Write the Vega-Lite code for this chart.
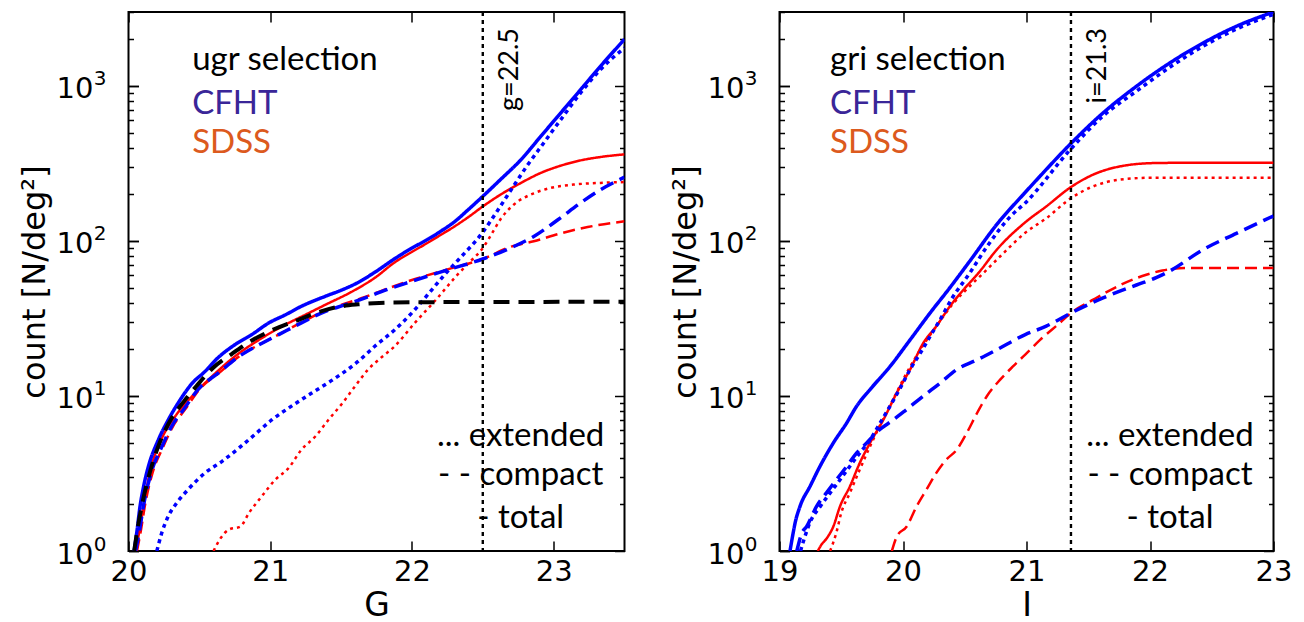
{
 "$schema": "https://vega.github.io/schema/vega-lite/v6.json",
 "background": "white",
 "padding": {"left": 16.5, "top": 9, "right": 0, "bottom": 0},
 "spacing": 41,
 "config": {
  "view": {"stroke": "black", "strokeWidth": 2},
  "axis": {"grid": false, "domain": false, "tickColor": "black", "tickWidth": 1.5, "labelColor": "black", "titleColor": "black", "labelFont": "DejaVu Sans", "titleFont": "DejaVu Sans", "titleFontWeight": "normal", "labelFontSize": 29, "titleFontSize": 33, "labelFlush": false, "labelOverlap": false}
 },
 "datasets": {
  "curves": [
   {"p":"L","s":"CFHT total","m":20.04,"n":1.0},{"p":"L","s":"CFHT total","m":20.06,"n":1.35},{"p":"L","s":"CFHT total","m":20.08,"n":1.9},{"p":"L","s":"CFHT total","m":20.11,"n":2.7},{"p":"L","s":"CFHT total","m":20.14,"n":3.5},{"p":"L","s":"CFHT total","m":20.21,"n":5.2},{"p":"L","s":"CFHT total","m":20.28,"n":7.0},{"p":"L","s":"CFHT total","m":20.35,"n":9.0},{"p":"L","s":"CFHT total","m":20.45,"n":12.1},{"p":"L","s":"CFHT total","m":20.54,"n":14.4},{"p":"L","s":"CFHT total","m":20.63,"n":17.6},{"p":"L","s":"CFHT total","m":20.75,"n":21.4},{"p":"L","s":"CFHT total","m":20.87,"n":24.9},{"p":"L","s":"CFHT total","m":20.99,"n":29.6},{"p":"L","s":"CFHT total","m":21.11,"n":33.5},{"p":"L","s":"CFHT total","m":21.22,"n":37.9},{"p":"L","s":"CFHT total","m":21.39,"n":44},{"p":"L","s":"CFHT total","m":21.51,"n":48.5},{"p":"L","s":"CFHT total","m":21.62,"n":54},{"p":"L","s":"CFHT total","m":21.74,"n":63},{"p":"L","s":"CFHT total","m":21.88,"n":77},{"p":"L","s":"CFHT total","m":22.0,"n":90},{"p":"L","s":"CFHT total","m":22.1,"n":101},{"p":"L","s":"CFHT total","m":22.2,"n":115},{"p":"L","s":"CFHT total","m":22.3,"n":133},{"p":"L","s":"CFHT total","m":22.4,"n":160},{"p":"L","s":"CFHT total","m":22.5,"n":194},{"p":"L","s":"CFHT total","m":22.625,"n":249},{"p":"L","s":"CFHT total","m":22.77,"n":335},{"p":"L","s":"CFHT total","m":22.91,"n":474},{"p":"L","s":"CFHT total","m":23.05,"n":670},{"p":"L","s":"CFHT total","m":23.19,"n":946},{"p":"L","s":"CFHT total","m":23.33,"n":1339},{"p":"L","s":"CFHT total","m":23.5,"n":2000},
   {"p":"L","s":"SDSS total","m":20.05,"n":1.0},{"p":"L","s":"SDSS total","m":20.08,"n":1.4},{"p":"L","s":"SDSS total","m":20.105,"n":1.94},{"p":"L","s":"SDSS total","m":20.15,"n":3.2},{"p":"L","s":"SDSS total","m":20.23,"n":5.2},{"p":"L","s":"SDSS total","m":20.33,"n":7.4},{"p":"L","s":"SDSS total","m":20.45,"n":10},{"p":"L","s":"SDSS total","m":20.59,"n":13.4},{"p":"L","s":"SDSS total","m":20.75,"n":18},{"p":"L","s":"SDSS total","m":20.92,"n":23},{"p":"L","s":"SDSS total","m":21.08,"n":28},{"p":"L","s":"SDSS total","m":21.25,"n":33.5},{"p":"L","s":"SDSS total","m":21.39,"n":38.8},{"p":"L","s":"SDSS total","m":21.58,"n":47.3},{"p":"L","s":"SDSS total","m":21.74,"n":58},{"p":"L","s":"SDSS total","m":21.88,"n":73},{"p":"L","s":"SDSS total","m":22.0,"n":85},{"p":"L","s":"SDSS total","m":22.1,"n":96},{"p":"L","s":"SDSS total","m":22.2,"n":109},{"p":"L","s":"SDSS total","m":22.3,"n":124},{"p":"L","s":"SDSS total","m":22.4,"n":143},{"p":"L","s":"SDSS total","m":22.5,"n":167},{"p":"L","s":"SDSS total","m":22.625,"n":199},{"p":"L","s":"SDSS total","m":22.77,"n":237},{"p":"L","s":"SDSS total","m":22.91,"n":275},{"p":"L","s":"SDSS total","m":23.05,"n":306},{"p":"L","s":"SDSS total","m":23.19,"n":331},{"p":"L","s":"SDSS total","m":23.33,"n":348},{"p":"L","s":"SDSS total","m":23.5,"n":362},
   {"p":"L","s":"model compact","m":20.04,"n":1.0},{"p":"L","s":"model compact","m":20.07,"n":1.5},{"p":"L","s":"model compact","m":20.093,"n":1.94},{"p":"L","s":"model compact","m":20.15,"n":3.2},{"p":"L","s":"model compact","m":20.22,"n":5.0},{"p":"L","s":"model compact","m":20.305,"n":7.2},{"p":"L","s":"model compact","m":20.39,"n":9.2},{"p":"L","s":"model compact","m":20.48,"n":11.6},{"p":"L","s":"model compact","m":20.59,"n":15},{"p":"L","s":"model compact","m":20.73,"n":18.7},{"p":"L","s":"model compact","m":20.87,"n":22.8},{"p":"L","s":"model compact","m":21.01,"n":26.5},{"p":"L","s":"model compact","m":21.2,"n":31},{"p":"L","s":"model compact","m":21.34,"n":34.7},{"p":"L","s":"model compact","m":21.48,"n":37.6},{"p":"L","s":"model compact","m":21.62,"n":39},{"p":"L","s":"model compact","m":21.77,"n":39.8},{"p":"L","s":"model compact","m":22.0,"n":40.2},{"p":"L","s":"model compact","m":22.5,"n":40.4},{"p":"L","s":"model compact","m":23.5,"n":40.5},
   {"p":"L","s":"CFHT compact","m":20.05,"n":1.0},{"p":"L","s":"CFHT compact","m":20.08,"n":1.4},{"p":"L","s":"CFHT compact","m":20.105,"n":1.94},{"p":"L","s":"CFHT compact","m":20.16,"n":3.2},{"p":"L","s":"CFHT compact","m":20.235,"n":4.7},{"p":"L","s":"CFHT compact","m":20.305,"n":6.4},{"p":"L","s":"CFHT compact","m":20.39,"n":8.2},{"p":"L","s":"CFHT compact","m":20.49,"n":11},{"p":"L","s":"CFHT compact","m":20.635,"n":14.1},{"p":"L","s":"CFHT compact","m":20.78,"n":18},{"p":"L","s":"CFHT compact","m":20.92,"n":21.4},{"p":"L","s":"CFHT compact","m":21.06,"n":24.9},{"p":"L","s":"CFHT compact","m":21.22,"n":29.6},{"p":"L","s":"CFHT compact","m":21.39,"n":35.2},{"p":"L","s":"CFHT compact","m":21.53,"n":38.8},{"p":"L","s":"CFHT compact","m":21.67,"n":42.9},{"p":"L","s":"CFHT compact","m":21.78,"n":47},{"p":"L","s":"CFHT compact","m":22.0,"n":55},{"p":"L","s":"CFHT compact","m":22.25,"n":65},{"p":"L","s":"CFHT compact","m":22.5,"n":76.5},{"p":"L","s":"CFHT compact","m":22.67,"n":88},{"p":"L","s":"CFHT compact","m":22.86,"n":107},{"p":"L","s":"CFHT compact","m":23.03,"n":137},{"p":"L","s":"CFHT compact","m":23.19,"n":176},{"p":"L","s":"CFHT compact","m":23.33,"n":214},{"p":"L","s":"CFHT compact","m":23.5,"n":258},
   {"p":"L","s":"SDSS compact","m":20.06,"n":1.0},{"p":"L","s":"SDSS compact","m":20.09,"n":1.4},{"p":"L","s":"SDSS compact","m":20.115,"n":1.94},{"p":"L","s":"SDSS compact","m":20.17,"n":3.2},{"p":"L","s":"SDSS compact","m":20.245,"n":4.7},{"p":"L","s":"SDSS compact","m":20.315,"n":6.4},{"p":"L","s":"SDSS compact","m":20.4,"n":8.2},{"p":"L","s":"SDSS compact","m":20.5,"n":11},{"p":"L","s":"SDSS compact","m":20.64,"n":14.1},{"p":"L","s":"SDSS compact","m":20.78,"n":18},{"p":"L","s":"SDSS compact","m":20.92,"n":21.4},{"p":"L","s":"SDSS compact","m":21.06,"n":24.9},{"p":"L","s":"SDSS compact","m":21.22,"n":29.8},{"p":"L","s":"SDSS compact","m":21.39,"n":35.5},{"p":"L","s":"SDSS compact","m":21.53,"n":39.5},{"p":"L","s":"SDSS compact","m":21.67,"n":43.5},{"p":"L","s":"SDSS compact","m":21.78,"n":47.5},{"p":"L","s":"SDSS compact","m":22.0,"n":56},{"p":"L","s":"SDSS compact","m":22.25,"n":65.5},{"p":"L","s":"SDSS compact","m":22.5,"n":76.5},{"p":"L","s":"SDSS compact","m":22.7,"n":92},{"p":"L","s":"SDSS compact","m":22.86,"n":99.6},{"p":"L","s":"SDSS compact","m":23.05,"n":112},{"p":"L","s":"SDSS compact","m":23.24,"n":123},{"p":"L","s":"SDSS compact","m":23.5,"n":134},
   {"p":"L","s":"CFHT extended","m":20.2,"n":1.0},{"p":"L","s":"CFHT extended","m":20.235,"n":1.31},{"p":"L","s":"CFHT extended","m":20.28,"n":1.67},{"p":"L","s":"CFHT extended","m":20.34,"n":2.04},{"p":"L","s":"CFHT extended","m":20.42,"n":2.49},{"p":"L","s":"CFHT extended","m":20.54,"n":3.19},{"p":"L","s":"CFHT extended","m":20.66,"n":3.79},{"p":"L","s":"CFHT extended","m":20.78,"n":4.62},{"p":"L","s":"CFHT extended","m":20.89,"n":5.63},{"p":"L","s":"CFHT extended","m":21.01,"n":7.0},{"p":"L","s":"CFHT extended","m":21.15,"n":8.6},{"p":"L","s":"CFHT extended","m":21.29,"n":10.4},{"p":"L","s":"CFHT extended","m":21.44,"n":12.7},{"p":"L","s":"CFHT extended","m":21.62,"n":16.7},{"p":"L","s":"CFHT extended","m":21.74,"n":21},{"p":"L","s":"CFHT extended","m":21.88,"n":26.8},{"p":"L","s":"CFHT extended","m":22.02,"n":36},{"p":"L","s":"CFHT extended","m":22.12,"n":46},{"p":"L","s":"CFHT extended","m":22.24,"n":62},{"p":"L","s":"CFHT extended","m":22.33,"n":76},{"p":"L","s":"CFHT extended","m":22.5,"n":114},{"p":"L","s":"CFHT extended","m":22.6,"n":155},{"p":"L","s":"CFHT extended","m":22.7,"n":214},{"p":"L","s":"CFHT extended","m":22.81,"n":303},{"p":"L","s":"CFHT extended","m":22.93,"n":429},{"p":"L","s":"CFHT extended","m":23.05,"n":606},{"p":"L","s":"CFHT extended","m":23.19,"n":901},{"p":"L","s":"CFHT extended","m":23.33,"n":1275},{"p":"L","s":"CFHT extended","m":23.5,"n":1760},
   {"p":"L","s":"SDSS extended","m":20.6,"n":1.0},{"p":"L","s":"SDSS extended","m":20.65,"n":1.21},{"p":"L","s":"SDSS extended","m":20.705,"n":1.37},{"p":"L","s":"SDSS extended","m":20.79,"n":1.44},{"p":"L","s":"SDSS extended","m":20.85,"n":1.76},{"p":"L","s":"SDSS extended","m":20.94,"n":2.25},{"p":"L","s":"SDSS extended","m":21.035,"n":2.88},{"p":"L","s":"SDSS extended","m":21.13,"n":3.43},{"p":"L","s":"SDSS extended","m":21.22,"n":4.5},{"p":"L","s":"SDSS extended","m":21.32,"n":5.5},{"p":"L","s":"SDSS extended","m":21.41,"n":7.0},{"p":"L","s":"SDSS extended","m":21.51,"n":9.0},{"p":"L","s":"SDSS extended","m":21.6,"n":11.6},{"p":"L","s":"SDSS extended","m":21.69,"n":14.8},{"p":"L","s":"SDSS extended","m":21.78,"n":17.6},{"p":"L","s":"SDSS extended","m":21.88,"n":21},{"p":"L","s":"SDSS extended","m":22.02,"n":29.6},{"p":"L","s":"SDSS extended","m":22.17,"n":41.8},{"p":"L","s":"SDSS extended","m":22.31,"n":59},{"p":"L","s":"SDSS extended","m":22.4,"n":72},{"p":"L","s":"SDSS extended","m":22.5,"n":90},{"p":"L","s":"SDSS extended","m":22.56,"n":110},{"p":"L","s":"SDSS extended","m":22.625,"n":138},{"p":"L","s":"SDSS extended","m":22.72,"n":172},{"p":"L","s":"SDSS extended","m":22.86,"n":203},{"p":"L","s":"SDSS extended","m":22.98,"n":220},{"p":"L","s":"SDSS extended","m":23.14,"n":231},{"p":"L","s":"SDSS extended","m":23.33,"n":237},{"p":"L","s":"SDSS extended","m":23.5,"n":240},
   {"p":"R","s":"CFHT total","m":19.085,"n":1.0},{"p":"R","s":"CFHT total","m":19.11,"n":1.3},{"p":"R","s":"CFHT total","m":19.125,"n":1.5},{"p":"R","s":"CFHT total","m":19.166,"n":1.94},{"p":"R","s":"CFHT total","m":19.247,"n":2.61},{"p":"R","s":"CFHT total","m":19.328,"n":3.52},{"p":"R","s":"CFHT total","m":19.436,"n":4.98},{"p":"R","s":"CFHT total","m":19.544,"n":6.7},{"p":"R","s":"CFHT total","m":19.625,"n":8.6},{"p":"R","s":"CFHT total","m":19.733,"n":11},{"p":"R","s":"CFHT total","m":19.895,"n":15.5},{"p":"R","s":"CFHT total","m":20.057,"n":23},{"p":"R","s":"CFHT total","m":20.219,"n":34.3},{"p":"R","s":"CFHT total","m":20.38,"n":50},{"p":"R","s":"CFHT total","m":20.54,"n":74},{"p":"R","s":"CFHT total","m":20.76,"n":128},{"p":"R","s":"CFHT total","m":20.99,"n":206},{"p":"R","s":"CFHT total","m":21.11,"n":262},{"p":"R","s":"CFHT total","m":21.35,"n":418},{"p":"R","s":"CFHT total","m":21.62,"n":670},{"p":"R","s":"CFHT total","m":21.89,"n":995},{"p":"R","s":"CFHT total","m":22.16,"n":1407},{"p":"R","s":"CFHT total","m":22.43,"n":1893},{"p":"R","s":"CFHT total","m":22.7,"n":2427},{"p":"R","s":"CFHT total","m":23.0,"n":3000},
   {"p":"R","s":"CFHT extended","m":19.17,"n":1.0},{"p":"R","s":"CFHT extended","m":19.2,"n":1.2},{"p":"R","s":"CFHT extended","m":19.25,"n":1.55},{"p":"R","s":"CFHT extended","m":19.33,"n":1.94},{"p":"R","s":"CFHT extended","m":19.41,"n":2.37},{"p":"R","s":"CFHT extended","m":19.49,"n":2.88},{"p":"R","s":"CFHT extended","m":19.57,"n":3.52},{"p":"R","s":"CFHT extended","m":19.65,"n":4.29},{"p":"R","s":"CFHT extended","m":19.733,"n":5.2},{"p":"R","s":"CFHT extended","m":19.81,"n":6.6},{"p":"R","s":"CFHT extended","m":19.895,"n":8.6},{"p":"R","s":"CFHT extended","m":19.976,"n":11.2},{"p":"R","s":"CFHT extended","m":20.057,"n":14.8},{"p":"R","s":"CFHT extended","m":20.14,"n":18.9},{"p":"R","s":"CFHT extended","m":20.22,"n":24.3},{"p":"R","s":"CFHT extended","m":20.3,"n":31},{"p":"R","s":"CFHT extended","m":20.39,"n":41.8},{"p":"R","s":"CFHT extended","m":20.54,"n":62},{"p":"R","s":"CFHT extended","m":20.68,"n":92},{"p":"R","s":"CFHT extended","m":20.87,"n":144},{"p":"R","s":"CFHT extended","m":20.99,"n":176},{"p":"R","s":"CFHT extended","m":21.35,"n":385},{"p":"R","s":"CFHT extended","m":21.62,"n":640},{"p":"R","s":"CFHT extended","m":21.89,"n":925},{"p":"R","s":"CFHT extended","m":22.16,"n":1320},{"p":"R","s":"CFHT extended","m":22.43,"n":1803},{"p":"R","s":"CFHT extended","m":22.7,"n":2330},{"p":"R","s":"CFHT extended","m":23.0,"n":2900},
   {"p":"R","s":"CFHT compact","m":19.14,"n":1.0},{"p":"R","s":"CFHT compact","m":19.18,"n":1.3},{"p":"R","s":"CFHT compact","m":19.22,"n":1.44},{"p":"R","s":"CFHT compact","m":19.3,"n":1.94},{"p":"R","s":"CFHT compact","m":19.38,"n":2.37},{"p":"R","s":"CFHT compact","m":19.46,"n":2.88},{"p":"R","s":"CFHT compact","m":19.545,"n":3.52},{"p":"R","s":"CFHT compact","m":19.625,"n":4.29},{"p":"R","s":"CFHT compact","m":19.706,"n":4.98},{"p":"R","s":"CFHT compact","m":19.81,"n":6.06},{"p":"R","s":"CFHT compact","m":19.92,"n":7.0},{"p":"R","s":"CFHT compact","m":20.03,"n":8.2},{"p":"R","s":"CFHT compact","m":20.165,"n":10},{"p":"R","s":"CFHT compact","m":20.3,"n":12.1},{"p":"R","s":"CFHT compact","m":20.435,"n":14.8},{"p":"R","s":"CFHT compact","m":20.6,"n":17.1},{"p":"R","s":"CFHT compact","m":20.76,"n":19.9},{"p":"R","s":"CFHT compact","m":20.99,"n":24.9},{"p":"R","s":"CFHT compact","m":21.16,"n":28.2},{"p":"R","s":"CFHT compact","m":21.36,"n":34.3},{"p":"R","s":"CFHT compact","m":21.62,"n":42.9},{"p":"R","s":"CFHT compact","m":21.89,"n":52},{"p":"R","s":"CFHT compact","m":22.05,"n":58},{"p":"R","s":"CFHT compact","m":22.16,"n":64},{"p":"R","s":"CFHT compact","m":22.43,"n":88},{"p":"R","s":"CFHT compact","m":22.7,"n":112},{"p":"R","s":"CFHT compact","m":23.0,"n":145},
   {"p":"R","s":"SDSS total","m":19.31,"n":1.0},{"p":"R","s":"SDSS total","m":19.34,"n":1.1},{"p":"R","s":"SDSS total","m":19.38,"n":1.2},{"p":"R","s":"SDSS total","m":19.436,"n":1.44},{"p":"R","s":"SDSS total","m":19.49,"n":1.94},{"p":"R","s":"SDSS total","m":19.57,"n":2.61},{"p":"R","s":"SDSS total","m":19.65,"n":3.7},{"p":"R","s":"SDSS total","m":19.733,"n":4.98},{"p":"R","s":"SDSS total","m":19.84,"n":7.0},{"p":"R","s":"SDSS total","m":19.95,"n":10.5},{"p":"R","s":"SDSS total","m":20.057,"n":14.8},{"p":"R","s":"SDSS total","m":20.165,"n":22},{"p":"R","s":"SDSS total","m":20.27,"n":28.2},{"p":"R","s":"SDSS total","m":20.38,"n":37.9},{"p":"R","s":"SDSS total","m":20.49,"n":48.5},{"p":"R","s":"SDSS total","m":20.61,"n":62},{"p":"R","s":"SDSS total","m":20.76,"n":88},{"p":"R","s":"SDSS total","m":20.99,"n":132},{"p":"R","s":"SDSS total","m":21.16,"n":167},{"p":"R","s":"SDSS total","m":21.35,"n":220},{"p":"R","s":"SDSS total","m":21.54,"n":268},{"p":"R","s":"SDSS total","m":21.76,"n":303},{"p":"R","s":"SDSS total","m":22.03,"n":318},{"p":"R","s":"SDSS total","m":22.4,"n":320},{"p":"R","s":"SDSS total","m":23.0,"n":320},
   {"p":"R","s":"SDSS extended","m":19.41,"n":1.0},{"p":"R","s":"SDSS extended","m":19.46,"n":1.31},{"p":"R","s":"SDSS extended","m":19.5,"n":1.76},{"p":"R","s":"SDSS extended","m":19.57,"n":2.37},{"p":"R","s":"SDSS extended","m":19.65,"n":3.35},{"p":"R","s":"SDSS extended","m":19.733,"n":4.73},{"p":"R","s":"SDSS extended","m":19.81,"n":6.37},{"p":"R","s":"SDSS extended","m":19.92,"n":9.5},{"p":"R","s":"SDSS extended","m":20.03,"n":14.1},{"p":"R","s":"SDSS extended","m":20.14,"n":19.9},{"p":"R","s":"SDSS extended","m":20.27,"n":28.2},{"p":"R","s":"SDSS extended","m":20.41,"n":39.8},{"p":"R","s":"SDSS extended","m":20.54,"n":51},{"p":"R","s":"SDSS extended","m":20.65,"n":62},{"p":"R","s":"SDSS extended","m":20.79,"n":80},{"p":"R","s":"SDSS extended","m":20.99,"n":113},{"p":"R","s":"SDSS extended","m":21.16,"n":140},{"p":"R","s":"SDSS extended","m":21.36,"n":189},{"p":"R","s":"SDSS extended","m":21.54,"n":225},{"p":"R","s":"SDSS extended","m":21.76,"n":249},{"p":"R","s":"SDSS extended","m":22.03,"n":256},{"p":"R","s":"SDSS extended","m":23.0,"n":256},
   {"p":"R","s":"SDSS compact","m":19.91,"n":1.0},{"p":"R","s":"SDSS compact","m":19.95,"n":1.24},{"p":"R","s":"SDSS compact","m":20.03,"n":1.44},{"p":"R","s":"SDSS compact","m":20.11,"n":1.94},{"p":"R","s":"SDSS compact","m":20.19,"n":2.49},{"p":"R","s":"SDSS compact","m":20.27,"n":3.19},{"p":"R","s":"SDSS compact","m":20.35,"n":3.88},{"p":"R","s":"SDSS compact","m":20.435,"n":4.5},{"p":"R","s":"SDSS compact","m":20.516,"n":5.77},{"p":"R","s":"SDSS compact","m":20.6,"n":7.77},{"p":"R","s":"SDSS compact","m":20.68,"n":10},{"p":"R","s":"SDSS compact","m":20.785,"n":12.7},{"p":"R","s":"SDSS compact","m":20.89,"n":15.5},{"p":"R","s":"SDSS compact","m":20.99,"n":18.5},{"p":"R","s":"SDSS compact","m":21.11,"n":23},{"p":"R","s":"SDSS compact","m":21.27,"n":29.6},{"p":"R","s":"SDSS compact","m":21.36,"n":34.3},{"p":"R","s":"SDSS compact","m":21.54,"n":41.8},{"p":"R","s":"SDSS compact","m":21.76,"n":52},{"p":"R","s":"SDSS compact","m":21.97,"n":60.6},{"p":"R","s":"SDSS compact","m":22.1,"n":64.5},{"p":"R","s":"SDSS compact","m":22.3,"n":67},{"p":"R","s":"SDSS compact","m":23.0,"n":67}
  ],
  "notes": [
   {"p":"L","k":"sel","t":"ugr selection","m":20.449,"n":1268},
   {"p":"L","k":"CFHT","t":"CFHT","m":20.449,"n":660},
   {"p":"L","k":"SDSS","t":"SDSS","m":20.449,"n":370},
   {"p":"R","k":"sel","t":"gri selection","m":19.409,"n":1268},
   {"p":"R","k":"CFHT","t":"CFHT","m":19.409,"n":660},
   {"p":"R","k":"SDSS","t":"SDSS","m":19.409,"n":370}
  ],
  "keys": [
   {"p":"L","t":"... extended","m":22.767,"n":4.76},
   {"p":"L","t":"- - compact","m":22.767,"n":2.67},
   {"p":"L","t":"- total","m":22.767,"n":1.41},
   {"p":"R","t":"... extended","m":22.162,"n":4.76},
   {"p":"R","t":"- - compact","m":22.162,"n":2.67},
   {"p":"R","t":"- total","m":22.162,"n":1.41}
  ],
  "cuts": [
   {"p":"L","m":22.5,"n":2366,"t":"g=22.5"},
   {"p":"R","m":21.36,"n":2366,"t":"i=21.3"}
  ]
 },
 "hconcat": [
  {
   "width": 496, "height": 539,
   "layer": [
    {
     "data": {"name": "curves"},
     "transform": [{"filter": "datum.p == 'L' && indexof(datum.s, 'SDSS') == 0"}],
     "mark": {"type": "line", "strokeWidth": 2.5, "clip": true, "interpolate": "monotone"},
     "encoding": {
      "x": {"field": "m", "type": "quantitative", "scale": {"domain": [20, 23.5], "nice": false, "zero": false}, "axis": {"values": [20,21,22,23], "tickSize": -10, "labelPadding": 16, "title": "G", "titlePadding": 3}},
      "y": {"field": "n", "type": "quantitative", "scale": {"type": "log", "domain": [1, 3000], "nice": false}, "axis": {"values": [1,10,100,1000], "tickSize": -10, "labelExpr": "'10'", "labelFontSize": 29, "labelPadding": 45.5, "labelOffset": 3, "title": "count [N/deg²]", "titleFontSize": 32, "titlePadding": 5}},
      "color": {"field": "s", "type": "nominal", "scale": {"domain": ["CFHT total","CFHT compact","CFHT extended","SDSS total","SDSS compact","SDSS extended","model compact"], "range": ["#0000ff","#0000ff","#0000ff","#ff0000","#ff0000","#ff0000","#000000"]}, "legend": null},
      "strokeDash": {"field": "s", "type": "nominal", "scale": {"domain": ["CFHT total","CFHT compact","CFHT extended","SDSS total","SDSS compact","SDSS extended","model compact"], "range": [[1,0],[14,7],[4,4],[1,0],[12,6],[3,4],[16,9]]}, "legend": null}
     }
    },
    {
     "data": {"name": "curves"},
     "transform": [{"filter": "datum.p == 'L' && indexof(datum.s, 'CFHT') == 0"}],
     "mark": {"type": "line", "strokeWidth": 3.5, "clip": true, "interpolate": "monotone"},
     "encoding": {
      "x": {"field": "m", "type": "quantitative", "scale": {"domain": [20, 23.5], "nice": false, "zero": false}, "axis": null},
      "y": {"field": "n", "type": "quantitative", "scale": {"type": "log", "domain": [1, 3000], "nice": false}, "axis": {"orient": "left", "values": [1,10,100,1000], "tickSize": -10, "labelExpr": "datum.value == 1 ? '0' : datum.value == 10 ? '1' : datum.value == 100 ? '2' : '3'", "labelFontSize": 20, "labelPadding": 32.5, "labelOffset": -7, "title": null}},
      "color": {"field": "s", "type": "nominal", "legend": null},
      "strokeDash": {"field": "s", "type": "nominal", "legend": null}
     }
    },
    {
     "data": {"name": "curves"},
     "transform": [{"filter": "datum.p == 'L' && indexof(datum.s, 'model') == 0"}],
     "mark": {"type": "line", "strokeWidth": 4, "clip": true, "interpolate": "monotone"},
     "encoding": {
      "x": {"field": "m", "type": "quantitative", "scale": {"domain": [20, 23.5], "nice": false, "zero": false}, "axis": null},
      "y": {"field": "n", "type": "quantitative", "scale": {"type": "log", "domain": [1, 3000], "nice": false}, "axis": null},
      "color": {"field": "s", "type": "nominal", "legend": null},
      "strokeDash": {"field": "s", "type": "nominal", "legend": null}
     }
    },
    {
     "data": {"name": "cuts"},
     "transform": [{"filter": "datum.p == 'L'"}],
     "mark": {"type": "rule", "color": "black", "strokeWidth": 2.4, "strokeDash": [4, 4]},
     "encoding": {
      "x": {"field": "m", "type": "quantitative", "scale": {"domain": [20, 23.5], "nice": false, "zero": false}, "axis": null}
     }
    },
    {
     "data": {"name": "notes"},
     "transform": [{"filter": "datum.p == 'L'"}],
     "mark": {"type": "text", "align": "left", "baseline": "alphabetic", "font": "Lato", "fontSize": 33},
     "encoding": {
      "x": {"field": "m", "type": "quantitative", "scale": {"domain": [20, 23.5], "nice": false, "zero": false}, "axis": {"orient": "top", "values": [20,21,22,23], "tickSize": -10, "labels": false, "title": null}},
      "y": {"field": "n", "type": "quantitative", "scale": {"type": "log", "domain": [1, 3000], "nice": false}, "axis": {"orient": "right", "values": [1,10,100,1000], "tickSize": -10, "labels": false, "title": null}},
      "text": {"field": "t"},
      "fill": {"field": "k", "type": "nominal", "scale": {"domain": ["sel","CFHT","SDSS"], "range": ["#000000","#3a2698","#dc5a1e"]}, "legend": null}
     }
    },
    {
     "data": {"name": "keys"},
     "transform": [{"filter": "datum.p == 'L'"}],
     "mark": {"type": "text", "align": "center", "baseline": "alphabetic", "font": "Lato", "fontSize": 33, "color": "black"},
     "encoding": {
      "x": {"field": "m", "type": "quantitative", "scale": {"domain": [20, 23.5], "nice": false, "zero": false}, "axis": null},
      "y": {"field": "n", "type": "quantitative", "scale": {"type": "log", "domain": [1, 3000], "nice": false}, "axis": {"orient": "left", "values": [2,3,4,5,6,7,8,9,20,30,40,50,60,70,80,90,200,300,400,500,600,700,800,900,2000,3000], "tickSize": -5, "labels": false, "title": null}},
      "text": {"field": "t"}
     }
    },
    {
     "data": {"name": "cuts"},
     "transform": [{"filter": "datum.p == 'L'"}],
     "mark": {"type": "text", "angle": 270, "align": "right", "baseline": "alphabetic", "dy": 35, "font": "Lato", "fontSize": 27, "color": "black"},
     "encoding": {
      "x": {"field": "m", "type": "quantitative", "scale": {"domain": [20, 23.5], "nice": false, "zero": false}, "axis": null},
      "y": {"field": "n", "type": "quantitative", "scale": {"type": "log", "domain": [1, 3000], "nice": false}, "axis": {"orient": "right", "values": [2,3,4,5,6,7,8,9,20,30,40,50,60,70,80,90,200,300,400,500,600,700,800,900,2000,3000], "tickSize": -5, "labels": false, "title": null}},
      "text": {"field": "t"}
     }
    }
   ],
   "resolve": {"axis": {"x": "independent", "y": "independent"}}
  },
  {
   "width": 494, "height": 539,
   "layer": [
    {
     "data": {"name": "curves"},
     "transform": [{"filter": "datum.p == 'R' && indexof(datum.s, 'SDSS') == 0"}],
     "mark": {"type": "line", "strokeWidth": 2.5, "clip": true, "interpolate": "monotone"},
     "encoding": {
      "x": {"field": "m", "type": "quantitative", "scale": {"domain": [19, 23], "nice": false, "zero": false}, "axis": {"values": [19,20,21,22,23], "tickSize": -10, "labelPadding": 16, "title": "I", "titlePadding": 3}},
      "y": {"field": "n", "type": "quantitative", "scale": {"type": "log", "domain": [1, 3000], "nice": false}, "axis": {"values": [1,10,100,1000], "tickSize": -10, "labelExpr": "'10'", "labelFontSize": 29, "labelPadding": 45.5, "labelOffset": 3, "title": "count [N/deg²]", "titleFontSize": 32, "titlePadding": 5}},
      "color": {"field": "s", "type": "nominal", "legend": null},
      "strokeDash": {"field": "s", "type": "nominal", "legend": null}
     }
    },
    {
     "data": {"name": "curves"},
     "transform": [{"filter": "datum.p == 'R' && indexof(datum.s, 'CFHT') == 0"}],
     "mark": {"type": "line", "strokeWidth": 3.5, "clip": true, "interpolate": "monotone"},
     "encoding": {
      "x": {"field": "m", "type": "quantitative", "scale": {"domain": [19, 23], "nice": false, "zero": false}, "axis": null},
      "y": {"field": "n", "type": "quantitative", "scale": {"type": "log", "domain": [1, 3000], "nice": false}, "axis": {"orient": "left", "values": [1,10,100,1000], "tickSize": -10, "labelExpr": "datum.value == 1 ? '0' : datum.value == 10 ? '1' : datum.value == 100 ? '2' : '3'", "labelFontSize": 20, "labelPadding": 32.5, "labelOffset": -7, "title": null}},
      "color": {"field": "s", "type": "nominal", "legend": null},
      "strokeDash": {"field": "s", "type": "nominal", "legend": null}
     }
    },
    {
     "data": {"name": "cuts"},
     "transform": [{"filter": "datum.p == 'R'"}],
     "mark": {"type": "rule", "color": "black", "strokeWidth": 2.4, "strokeDash": [4, 4]},
     "encoding": {
      "x": {"field": "m", "type": "quantitative", "scale": {"domain": [19, 23], "nice": false, "zero": false}, "axis": null}
     }
    },
    {
     "data": {"name": "notes"},
     "transform": [{"filter": "datum.p == 'R'"}],
     "mark": {"type": "text", "align": "left", "baseline": "alphabetic", "font": "Lato", "fontSize": 33},
     "encoding": {
      "x": {"field": "m", "type": "quantitative", "scale": {"domain": [19, 23], "nice": false, "zero": false}, "axis": {"orient": "top", "values": [19,20,21,22,23], "tickSize": -10, "labels": false, "title": null}},
      "y": {"field": "n", "type": "quantitative", "scale": {"type": "log", "domain": [1, 3000], "nice": false}, "axis": {"orient": "right", "values": [1,10,100,1000], "tickSize": -10, "labels": false, "title": null}},
      "text": {"field": "t"},
      "fill": {"field": "k", "type": "nominal", "legend": null}
     }
    },
    {
     "data": {"name": "keys"},
     "transform": [{"filter": "datum.p == 'R'"}],
     "mark": {"type": "text", "align": "center", "baseline": "alphabetic", "font": "Lato", "fontSize": 33, "color": "black"},
     "encoding": {
      "x": {"field": "m", "type": "quantitative", "scale": {"domain": [19, 23], "nice": false, "zero": false}, "axis": null},
      "y": {"field": "n", "type": "quantitative", "scale": {"type": "log", "domain": [1, 3000], "nice": false}, "axis": {"orient": "left", "values": [2,3,4,5,6,7,8,9,20,30,40,50,60,70,80,90,200,300,400,500,600,700,800,900,2000,3000], "tickSize": -5, "labels": false, "title": null}},
      "text": {"field": "t"}
     }
    },
    {
     "data": {"name": "cuts"},
     "transform": [{"filter": "datum.p == 'R'"}],
     "mark": {"type": "text", "angle": 270, "align": "right", "baseline": "alphabetic", "dy": 35, "font": "Lato", "fontSize": 27, "color": "black"},
     "encoding": {
      "x": {"field": "m", "type": "quantitative", "scale": {"domain": [19, 23], "nice": false, "zero": false}, "axis": null},
      "y": {"field": "n", "type": "quantitative", "scale": {"type": "log", "domain": [1, 3000], "nice": false}, "axis": {"orient": "right", "values": [2,3,4,5,6,7,8,9,20,30,40,50,60,70,80,90,200,300,400,500,600,700,800,900,2000,3000], "tickSize": -5, "labels": false, "title": null}},
      "text": {"field": "t"}
     }
    }
   ],
   "resolve": {"axis": {"x": "independent", "y": "independent"}}
  }
 ]
}
